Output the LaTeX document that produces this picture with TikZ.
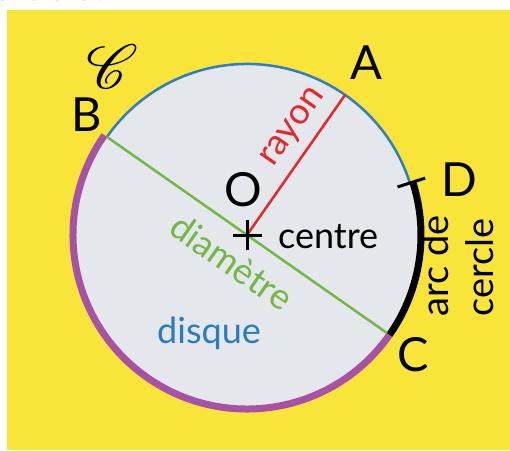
\documentclass[tikz,border=0pt]{standalone}
\usepackage{fontspec}
\setmainfont{Lato}
\usepackage{mathrsfs}
\usetikzlibrary{calc}
\definecolor{bgyellow}{HTML}{F9E43A}
\definecolor{diskfill}{HTML}{E4E7EC}
\definecolor{arcblue}{HTML}{2F7EC0}
\definecolor{arcpurple}{HTML}{A752A6}
\definecolor{diamgreen}{HTML}{72B843}
\definecolor{rayred}{HTML}{E8262A}
\definecolor{titlegreen}{HTML}{1FB34A}
\definecolor{disqueblue}{HTML}{2A7BC4}
\begin{document}
\begin{tikzpicture}[x=1pt,y=1pt,
  ptlabel/.style={inner sep=0pt, font=\fontsize{47}{50}\selectfont},
  wordlabel/.style={inner sep=0pt, font=\fontsize{36}{40}\selectfont},
  thickarc/.style={line width=7pt},
]
\useasboundingbox (0,0) rectangle (510,450);
\fill[white] (0,0) rectangle (510,450);
\fill[bgyellow] (7,0) rectangle (510,440);
\begin{scope}
  \clip (0,0) rectangle (510,450);
  \node[titlegreen, font=\fontsize{30}{30}\selectfont\bfseries, anchor=base west, inner sep=0pt] (title) at (-6,449) {entre O.};
\end{scope}
% geometry
\coordinate (O) at (247,215);
\coordinate (A) at ($(O)+(55:171)$);
\coordinate (B) at ($(O)+(145:171)$);
\coordinate (C) at ($(O)+(-35:171)$);
\coordinate (Dblue) at ($(O)+(17.7:171)$);
\coordinate (Dthick) at ($(O)+(17.7:174)$);
\coordinate (Cthick) at ($(O)+(-35:174)$);
\coordinate (Bthick) at ($(O)+(145:174)$);
\coordinate (Din) at ($(O)+(17.7:158)$);
\coordinate (Dout) at ($(O)+(17.7:187)$);
% disc
\fill[diskfill] (O) circle (171);
\draw[arcblue, line width=2.5pt] (Dblue) arc (17.7:145:171);
\draw[arcpurple, thickarc] (Bthick) arc (145:325:174);
\draw[black, thickarc] (Cthick) arc (-35:17.7:174);
\draw[black, line width=3pt] (Din) -- (Dout);
\draw[diamgreen, line width=2.5pt] (B) -- (C);
\draw[rayred, line width=2.5pt] (O) -- (A);
% centre cross
\coordinate (cl) at ($(O)+(-14,0)$);
\coordinate (cr) at ($(O)+(15,0)$);
\coordinate (ct) at ($(O)+(0,15)$);
\coordinate (cb) at ($(O)+(0,-15)$);
\draw[black, line width=3pt] (cl) -- (cr);
\draw[black, line width=3pt] (ct) -- (cb);
% labels
\node[scale=6.2, inner sep=0pt] (scrC) at (112,383) {$\mathscr{C}$};
\node[ptlabel] (lA) at (366,387) {A};
\node[ptlabel] (lB) at (87,335) {B};
\node[ptlabel] (lC) at (413,95) {C};
\node[ptlabel] (lD) at (459,270) {D};
\node[ptlabel] (lO) at (243,260) {O};
\node[wordlabel, anchor=base west] (centre) at (278,202) {centre};
\node[wordlabel, anchor=base west, text=disqueblue] (disque) at (157,107) {disque};
\node[wordlabel, rotate=-35, text=diamgreen] (diam) at (232,188) {diamètre};
\node[wordlabel, rotate=55, text=rayred] (rayon) at (294,322) {rayon};
\node[wordlabel, font=\fontsize{38}{40}\selectfont, rotate=90, anchor=base west] (arcde) at (448,133) {arc de};
\node[wordlabel, font=\fontsize{38}{40}\selectfont, rotate=90, anchor=base west] (cercle) at (493,133) {cercle};
\end{tikzpicture}
\end{document}
